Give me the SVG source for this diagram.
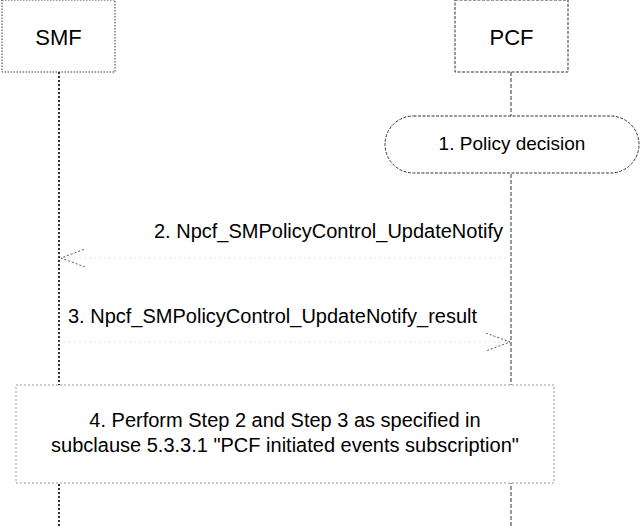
<svg xmlns="http://www.w3.org/2000/svg" width="642" height="528" viewBox="0 0 642 528">
<defs>
<style>
text{font-family:"Liberation Sans",Arial,sans-serif;fill:#000}
.hdr{font-size:22px;text-anchor:middle}
.msg{font-size:20px}
.life1{stroke:#333;stroke-width:2;stroke-dasharray:2,2;fill:none}
.life2{stroke:#333;stroke-width:1;stroke-dasharray:4,2;fill:none}
.shaft{stroke:#e4e4e4;stroke-width:1;stroke-dasharray:2,3;fill:none}
</style>
<marker id="open" markerUnits="userSpaceOnUse" markerWidth="26" markerHeight="20" refX="24" refY="9" orient="auto">
<path d="M0,0 L24,9 L0,18" fill="none" stroke="#555" stroke-width="1" stroke-dasharray="2,2"/>
</marker>
</defs>
<rect width="642" height="528" fill="#fff"/>
<g id="lifelines">
<line class="life1" x1="59" y1="72" x2="59" y2="528"/>
<line class="life2" x1="511" y1="72" x2="511" y2="528"/>
</g>
<g id="smf">
<rect x="2" y="0" width="113" height="72" fill="#fff" stroke="#333" stroke-width="1" stroke-dasharray="1.5,1.5"/>
<text class="hdr" x="58.5" y="45">SMF</text>
</g>
<g id="pcf">
<rect x="455" y="0" width="113" height="72" fill="#fff" stroke="#333" stroke-width="1" stroke-dasharray="3,1.5"/>
<text class="hdr" x="511.5" y="45">PCF</text>
</g>
<g id="policy-decision">
<rect x="385" y="116" width="254" height="57" rx="28.5" ry="28.5" fill="#fff" stroke="#333" stroke-width="1" stroke-dasharray="3,1.5"/>
<text x="512" y="150" font-size="19" text-anchor="middle">1. Policy decision</text>
</g>
<g id="connectors">
<line class="shaft" x1="511" y1="258" x2="61" y2="258" marker-end="url(#open)"/>
<text class="msg" x="503" y="238" text-anchor="end">2. Npcf_SMPolicyControl_UpdateNotify</text>
<line class="shaft" x1="59" y1="342" x2="510" y2="342" marker-end="url(#open)"/>
<text class="msg" x="68" y="323">3. Npcf_SMPolicyControl_UpdateNotify_result</text>
</g>
<g id="step4">
<rect x="16" y="385" width="538" height="98" fill="#fff" stroke="#999" stroke-width="1" stroke-dasharray="2,2"/>
<text class="msg" x="285" y="427" text-anchor="middle">4. Perform Step 2 and Step 3 as specified in</text>
<text class="msg" x="285" y="452" text-anchor="middle">subclause 5.3.3.1 "PCF initiated events subscription"</text>
</g>
</svg>
